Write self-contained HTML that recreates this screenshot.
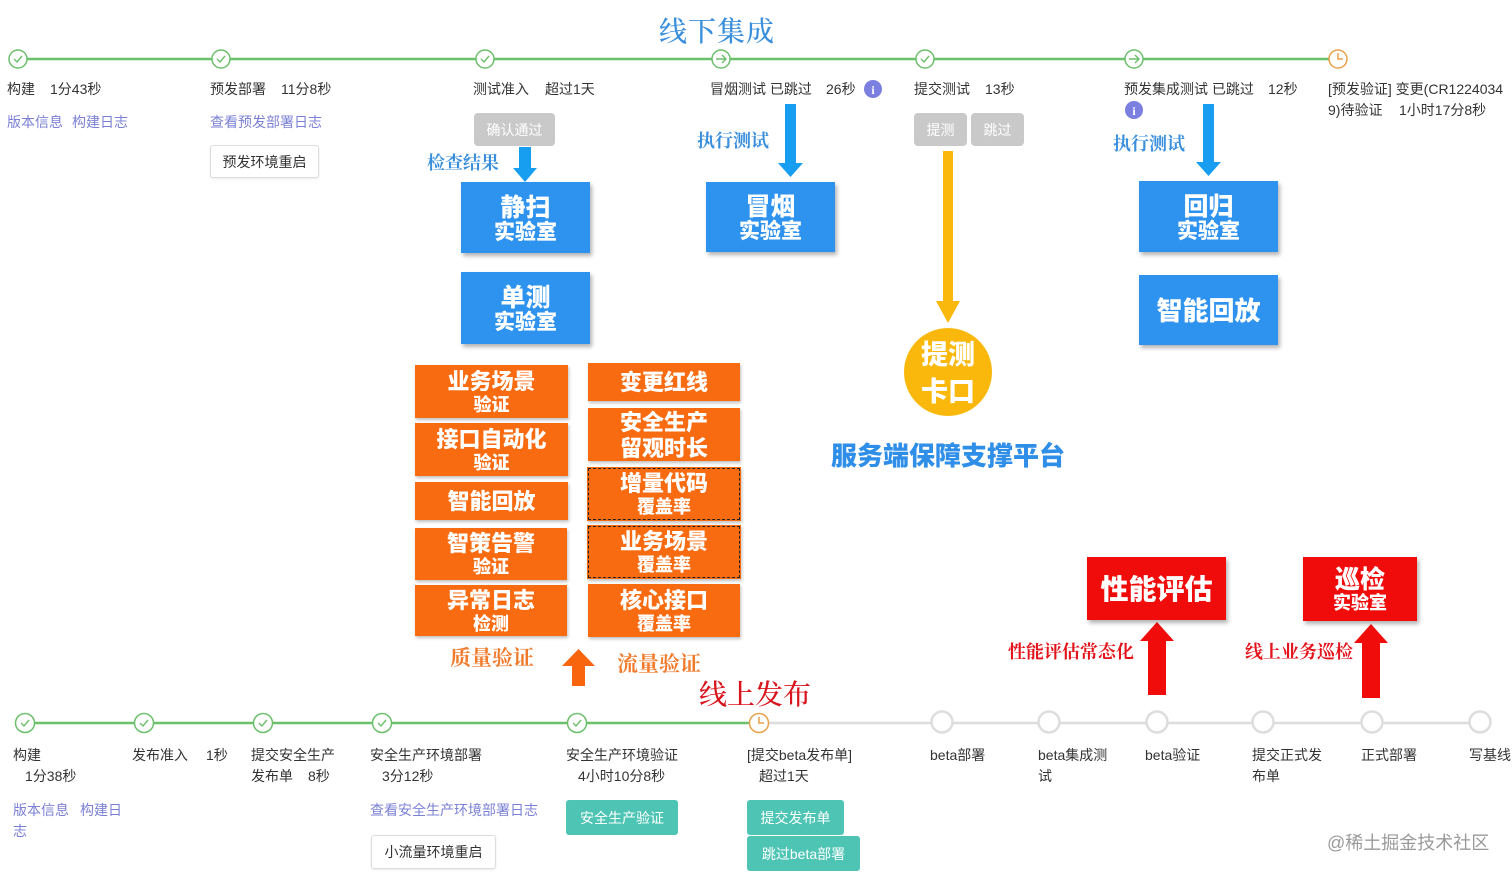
<!DOCTYPE html>
<html><head><meta charset="utf-8">
<style>
*{margin:0;padding:0;box-sizing:border-box}
body{width:1512px;height:876px;background:#fff;position:relative;overflow:hidden;font-family:"Liberation Sans","Noto Sans CJK SC",sans-serif;color:#333}
.a{position:absolute;white-space:nowrap}
.t{font-size:14px;color:#333;line-height:16px}
.lk{font-size:14px;color:#7b80d4;line-height:16px}
.btn{position:absolute;border:1px solid #ddd;border-radius:3px;background:#fff;font-size:14px;color:#333;display:flex;align-items:center;justify-content:center;box-shadow:0 1px 2px rgba(0,0,0,.08)}
.gb{position:absolute;background:#c9c9c9;border-radius:4px;color:#fff;font-size:14px;display:flex;align-items:center;justify-content:center}
.tb{position:absolute;background:#4dc4b4;border-radius:3px;color:#fff;font-size:14px;display:flex;align-items:center;justify-content:center}
.bl{position:absolute;background:#2e92ef;color:#fff;font-family:"Noto Sans CJK SC",sans-serif;font-weight:900;display:flex;flex-direction:column;align-items:center;justify-content:center;box-shadow:2px 3px 4px rgba(0,0,0,.3);line-height:1.12}
.or{position:absolute;background:#f86b10;color:#fff;font-family:"Noto Sans CJK SC",sans-serif;font-weight:900;display:flex;flex-direction:column;align-items:center;justify-content:center;box-shadow:1px 2px 3px rgba(0,0,0,.25);line-height:1.18}
.rd{position:absolute;background:#f10c0c;color:#fff;font-family:"Noto Sans CJK SC",sans-serif;font-weight:900;display:flex;flex-direction:column;align-items:center;justify-content:center;box-shadow:2px 3px 4px rgba(0,0,0,.3);line-height:1.1}
.sf{font-family:"Noto Serif CJK SC",serif;font-weight:700}
.dash{outline:1.5px dashed #222;outline-offset:-2px}
</style></head><body>
<svg class="a" style="left:0;top:0" width="1512" height="876" viewBox="0 0 1512 876">
<line x1="18" y1="59" x2="1338" y2="59" stroke="#6cbf6c" stroke-width="2.5"/>
<g fill="#fff" stroke="#6cbf6c" stroke-width="1.5">
<circle cx="18" cy="59" r="9"/><circle cx="221" cy="59" r="9"/><circle cx="485" cy="59" r="9"/><circle cx="721" cy="59" r="9"/><circle cx="925" cy="59" r="9"/><circle cx="1134" cy="59" r="9"/>
</g>
<g fill="none" stroke="#6cbf6c" stroke-width="1.4">
<path d="M14 59l3 3 5-6"/><path d="M217 59l3 3 5-6"/><path d="M481 59l3 3 5-6"/><path d="M921 59l3 3 5-6"/>
<path d="M716 59h10M722 55l4 4-4 4"/><path d="M1129 59h10M1135 55l4 4-4 4"/>
</g>
<circle cx="1338" cy="59" r="9" fill="#fff" stroke="#e8a24a" stroke-width="1.5"/>
<path d="M1338 53v6h5" fill="none" stroke="#e8a24a" stroke-width="1.5"/>
<circle cx="873" cy="89" r="9" fill="#7b7fe0"/><text x="873" y="94" font-size="12" font-weight="bold" fill="#fff" text-anchor="middle" font-family="Liberation Serif">i</text>
<circle cx="1134" cy="110" r="9" fill="#7b7fe0"/><text x="1134" y="115" font-size="12" font-weight="bold" fill="#fff" text-anchor="middle" font-family="Liberation Serif">i</text>
<g fill="#189ef0">
<rect x="519" y="147" width="12" height="22"/><path d="M513 168h24l-12 14z"/>
<rect x="785" y="104" width="11" height="60"/><path d="M778 163h25l-12.5 14z"/>
<rect x="1203" y="104" width="11" height="60"/><path d="M1196 162h25l-12.5 14z"/>
</g>
<rect x="943" y="151" width="10" height="152" fill="#fbb80c"/>
<path d="M936 301h24l-12 22z" fill="#fbb80c"/>
<circle cx="948" cy="372" r="44" fill="#fbb80c"/>
<rect x="572" y="664" width="13" height="22" fill="#f8650d"/>
<path d="M562 666h33l-16.5-17z" fill="#f8650d"/>
<rect x="1148" y="640" width="18" height="55" fill="#f10c0c"/>
<path d="M1140 641h34l-17-19z" fill="#f10c0c"/>
<rect x="1362" y="642" width="18" height="56" fill="#f10c0c"/>
<path d="M1354 643h34l-17-19z" fill="#f10c0c"/>
<line x1="25" y1="723" x2="759" y2="723" stroke="#6cbf6c" stroke-width="2.5"/>
<line x1="759" y1="723" x2="1480" y2="723" stroke="#ddd" stroke-width="2.5"/>
<g fill="#fff" stroke="#6cbf6c" stroke-width="1.5">
<circle cx="25" cy="723" r="9.5"/><circle cx="144" cy="723" r="9.5"/><circle cx="263" cy="723" r="9.5"/><circle cx="382" cy="723" r="9.5"/><circle cx="577" cy="723" r="9.5"/>
</g>
<g fill="none" stroke="#6cbf6c" stroke-width="1.4">
<path d="M21 723l3 3 5-6"/><path d="M140 723l3 3 5-6"/><path d="M259 723l3 3 5-6"/><path d="M378 723l3 3 5-6"/><path d="M573 723l3 3 5-6"/>
</g>
<circle cx="759" cy="723" r="9.5" fill="#fff" stroke="#e8a24a" stroke-width="1.5"/>
<path d="M759 717v6h5" fill="none" stroke="#e8a24a" stroke-width="1.5"/>
<g fill="#fff" stroke="#ddd" stroke-width="2.5">
<circle cx="942" cy="722" r="10.5"/><circle cx="1049" cy="722" r="10.5"/><circle cx="1157" cy="722" r="10.5"/><circle cx="1263" cy="722" r="10.5"/><circle cx="1372" cy="722" r="10.5"/><circle cx="1480" cy="722" r="10.5"/>
</g>
</svg>

<div class="a sf" style="left:659px;top:10px;font-size:28px;color:#3a8fdc;font-weight:500;letter-spacing:1px">线下集成</div>

<div class="a t" style="left:7px;top:81px">构建</div><div class="a t" style="left:50px;top:81px">1分43秒</div>
<div class="a t" style="left:210px;top:81px">预发部署</div><div class="a t" style="left:281px;top:81px">11分8秒</div>
<div class="a t" style="left:473px;top:81px">测试准入</div><div class="a t" style="left:545px;top:81px">超过1天</div>
<div class="a t" style="left:710px;top:81px">冒烟测试 已跳过</div><div class="a t" style="left:826px;top:81px">26秒</div>
<div class="a t" style="left:914px;top:81px">提交测试</div><div class="a t" style="left:985px;top:81px">13秒</div>
<div class="a t" style="left:1124px;top:81px">预发集成测试 已跳过</div><div class="a t" style="left:1268px;top:81px">12秒</div>
<div class="a t" style="left:1328px;top:81px">[预发验证] 变更(CR1224034</div>
<div class="a t" style="left:1328px;top:102px">9)待验证</div><div class="a t" style="left:1399px;top:102px">1小时17分8秒</div>

<div class="a lk" style="left:7px;top:114px">版本信息</div><div class="a lk" style="left:72px;top:114px">构建日志</div>
<div class="a lk" style="left:210px;top:114px">查看预发部署日志</div>
<div class="btn" style="left:210px;top:145px;width:109px;height:33px">预发环境重启</div>

<div class="gb" style="left:474px;top:113px;width:81px;height:33px">确认通过</div>
<div class="gb" style="left:914px;top:113px;width:53px;height:33px">提测</div>
<div class="gb" style="left:971px;top:113px;width:53px;height:33px">跳过</div>

<div class="a sf" style="left:427px;top:149px;font-size:18px;color:#3a8fdc">检查结果</div>
<div class="a sf" style="left:697px;top:127px;font-size:18px;color:#3a8fdc">执行测试</div>
<div class="a sf" style="left:1113px;top:130px;font-size:18px;color:#3a8fdc">执行测试</div>

<div class="bl" style="left:461px;top:182px;width:129px;height:71px"><span style="font-size:25px">静扫</span><span style="font-size:21px">实验室</span></div>
<div class="bl" style="left:461px;top:272px;width:129px;height:72px"><span style="font-size:25px">单测</span><span style="font-size:21px">实验室</span></div>
<div class="bl" style="left:706px;top:182px;width:129px;height:70px"><span style="font-size:25px">冒烟</span><span style="font-size:21px">实验室</span></div>
<div class="bl" style="left:1139px;top:181px;width:139px;height:71px"><span style="font-size:25px">回归</span><span style="font-size:21px">实验室</span></div>
<div class="bl" style="left:1139px;top:275px;width:139px;height:70px"><span style="font-size:26px">智能回放</span></div>

<div class="a" style="left:904px;top:334px;width:88px;text-align:center;color:#fff;font-family:'Noto Sans CJK SC',sans-serif;font-weight:900;font-size:27px;line-height:37px">提测<br>卡口</div>
<div class="a" style="left:831px;top:436px;font-size:26px;color:#2e8ee8;font-family:'Noto Sans CJK SC',sans-serif;font-weight:900">服务端保障支撑平台</div>

<div class="or" style="left:415px;top:365px;width:153px;height:53px"><span style="font-size:22px">业务场景</span><span style="font-size:18px">验证</span></div>
<div class="or" style="left:415px;top:423px;width:153px;height:53px"><span style="font-size:22px">接口自动化</span><span style="font-size:18px">验证</span></div>
<div class="or" style="left:415px;top:482px;width:153px;height:38px"><span style="font-size:22px">智能回放</span></div>
<div class="or" style="left:415px;top:528px;width:152px;height:52px"><span style="font-size:22px">智策告警</span><span style="font-size:18px">验证</span></div>
<div class="or" style="left:415px;top:585px;width:152px;height:51px"><span style="font-size:22px">异常日志</span><span style="font-size:18px">检测</span></div>
<div class="or" style="left:588px;top:363px;width:152px;height:38px"><span style="font-size:22px">变更红线</span></div>
<div class="or" style="left:588px;top:408px;width:152px;height:53px"><span style="font-size:22px">安全生产</span><span style="font-size:22px">留观时长</span></div>
<div class="or dash" style="left:587px;top:467px;width:154px;height:54px"><span style="font-size:22px">增量代码</span><span style="font-size:18px">覆盖率</span></div>
<div class="or dash" style="left:587px;top:525px;width:154px;height:54px"><span style="font-size:22px">业务场景</span><span style="font-size:18px">覆盖率</span></div>
<div class="or" style="left:588px;top:584px;width:152px;height:53px"><span style="font-size:22px">核心接口</span><span style="font-size:18px">覆盖率</span></div>

<div class="a sf" style="left:450px;top:642px;font-size:21px;color:#f07a2a">质量验证</div>
<div class="a sf" style="left:617px;top:648px;font-size:21px;color:#f07a2a">流量验证</div>
<div class="a sf" style="left:699px;top:673px;font-size:28px;color:#d8141c;font-weight:500">线上发布</div>

<div class="rd" style="left:1087px;top:557px;width:139px;height:63px"><span style="font-size:28px">性能评估</span></div>
<div class="rd" style="left:1303px;top:557px;width:114px;height:64px"><span style="font-size:25px">巡检</span><span style="font-size:18px">实验室</span></div>
<div class="a sf" style="left:1008px;top:638px;font-size:18px;color:#e3141c">性能评估常态化</div>
<div class="a sf" style="left:1245px;top:638px;font-size:18px;color:#e3141c">线上业务巡检</div>

<div class="a t" style="left:13px;top:747px">构建</div>
<div class="a t" style="left:25px;top:768px">1分38秒</div>
<div class="a t" style="left:132px;top:747px">发布准入</div><div class="a t" style="left:206px;top:747px">1秒</div>
<div class="a t" style="left:251px;top:747px">提交安全生产</div>
<div class="a t" style="left:251px;top:768px">发布单</div><div class="a t" style="left:308px;top:768px">8秒</div>
<div class="a t" style="left:370px;top:747px">安全生产环境部署</div>
<div class="a t" style="left:382px;top:768px">3分12秒</div>
<div class="a t" style="left:566px;top:747px">安全生产环境验证</div>
<div class="a t" style="left:578px;top:768px">4小时10分8秒</div>
<div class="a t" style="left:747px;top:747px">[提交beta发布单]</div>
<div class="a t" style="left:759px;top:768px">超过1天</div>
<div class="a t" style="left:930px;top:747px">beta部署</div>
<div class="a t" style="left:1038px;top:747px">beta集成测</div>
<div class="a t" style="left:1038px;top:768px">试</div>
<div class="a t" style="left:1145px;top:747px">beta验证</div>
<div class="a t" style="left:1252px;top:747px">提交正式发</div>
<div class="a t" style="left:1252px;top:768px">布单</div>
<div class="a t" style="left:1361px;top:747px">正式部署</div>
<div class="a t" style="left:1469px;top:747px">写基线</div>

<div class="a lk" style="left:13px;top:802px">版本信息</div><div class="a lk" style="left:80px;top:802px">构建日</div>
<div class="a lk" style="left:13px;top:823px">志</div>
<div class="a lk" style="left:370px;top:802px">查看安全生产环境部署日志</div>
<div class="btn" style="left:371px;top:835px;width:125px;height:34px">小流量环境重启</div>

<div class="tb" style="left:566px;top:800px;width:112px;height:35px">安全生产验证</div>
<div class="tb" style="left:747px;top:800px;width:97px;height:35px">提交发布单</div>
<div class="tb" style="left:747px;top:836px;width:113px;height:35px">跳过beta部署</div>

<div class="a" style="left:1327px;top:829px;font-size:18px;color:#9a9a9a">@稀土掘金技术社区</div>
</body></html>
